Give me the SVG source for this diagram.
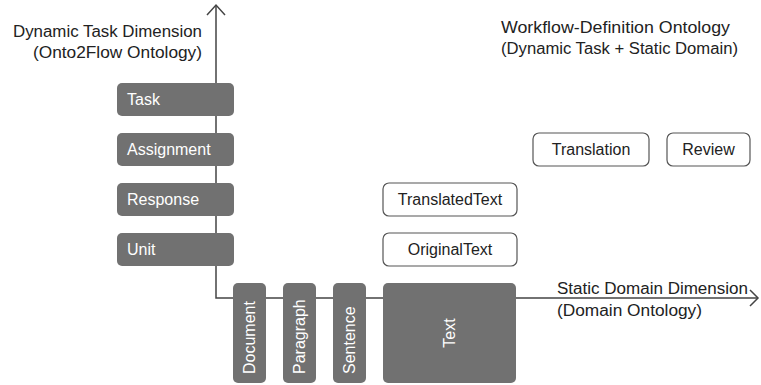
<svg xmlns="http://www.w3.org/2000/svg" width="761" height="385" viewBox="0 0 761 385">
  <style>
    text { font-family: "Liberation Sans", "Noto Sans", Arial, sans-serif; font-size: 16px; }
    .dark rect { fill: #717171; }
    .dark text { fill: #ffffff; }
    .light rect { fill: #ffffff; stroke: #555555; stroke-width: 1.2; }
    .light text { fill: #222222; text-anchor: middle; }
    .axis { stroke: #444444; stroke-width: 1.5; fill: none; }
    .label { fill: #222222; }
  </style>

  <!-- axes -->
  <g id="connectors">
    <path class="axis" d="M216 5 V298 H758"/>
    <path class="axis" d="M207 15 L216 5 L225 15"/>
    <path class="axis" d="M750 290 L758 298 L750 306"/>
  </g>

  <!-- axis captions -->
  <g id="captions">
    <text class="label" x="202" y="37" text-anchor="end" textLength="189" lengthAdjust="spacingAndGlyphs">Dynamic Task Dimension</text>
    <text class="label" x="202" y="58" text-anchor="end" textLength="169" lengthAdjust="spacingAndGlyphs">(Onto2Flow Ontology)</text>
    <text class="label" x="501" y="33" textLength="229" lengthAdjust="spacingAndGlyphs">Workflow-Definition Ontology</text>
    <text class="label" x="501" y="54" textLength="237" lengthAdjust="spacingAndGlyphs">(Dynamic Task + Static Domain)</text>
    <text class="label" x="557" y="294" textLength="191" lengthAdjust="spacingAndGlyphs">Static Domain Dimension</text>
    <text class="label" x="557" y="316" textLength="145" lengthAdjust="spacingAndGlyphs">(Domain Ontology)</text>
  </g>

  <!-- dynamic task dimension -->
  <g id="task" class="dark"><rect x="117" y="83" width="117" height="33" rx="5"/><text x="127" y="105">Task</text></g>
  <g id="assignment" class="dark"><rect x="117" y="133" width="117" height="33" rx="5"/><text x="127" y="155">Assignment</text></g>
  <g id="response" class="dark"><rect x="117" y="183" width="117" height="33" rx="5"/><text x="127" y="205">Response</text></g>
  <g id="unit" class="dark"><rect x="117" y="233" width="117" height="33" rx="5"/><text x="127" y="255">Unit</text></g>

  <!-- static domain dimension -->
  <g id="document" class="dark"><rect x="233" y="283" width="33" height="100" rx="5"/><text transform="translate(255 374) rotate(-90)">Document</text></g>
  <g id="paragraph" class="dark"><rect x="283" y="283" width="33" height="100" rx="5"/><text transform="translate(305 374) rotate(-90)">Paragraph</text></g>
  <g id="sentence" class="dark"><rect x="333" y="283" width="33" height="100" rx="5"/><text transform="translate(355 374) rotate(-90)">Sentence</text></g>
  <g id="text" class="dark"><rect x="383" y="283" width="133" height="100" rx="5"/><text transform="translate(455 333) rotate(-90)" text-anchor="middle">Text</text></g>

  <!-- workflow-definition classes -->
  <g id="translation" class="light"><rect x="533" y="133" width="116" height="33" rx="6"/><text x="591" y="155">Translation</text></g>
  <g id="review" class="light"><rect x="667" y="133" width="83" height="33" rx="6"/><text x="708.5" y="155">Review</text></g>
  <g id="translatedtext" class="light"><rect x="383" y="183" width="134" height="33" rx="6"/><text x="450" y="205">TranslatedText</text></g>
  <g id="originaltext" class="light"><rect x="383" y="233" width="134" height="33" rx="6"/><text x="450" y="255">OriginalText</text></g>
</svg>
